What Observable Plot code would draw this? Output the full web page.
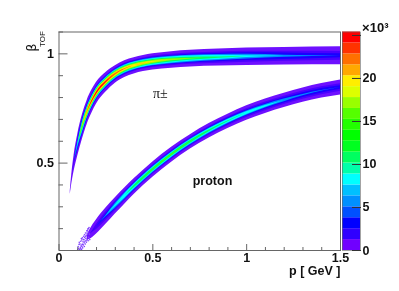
<!DOCTYPE html>
<html><head><meta charset="utf-8">
<script src="https://cdn.jsdelivr.net/npm/d3@7"></script>
<script src="https://cdn.jsdelivr.net/npm/@observablehq/plot@0.6"></script>
<style>
html,body{margin:0;padding:0;background:#fff}
#w{position:relative;width:399px;height:291px;overflow:hidden}
#w svg{position:absolute;left:0;top:0;background:transparent;filter:blur(.3px)}
</style></head><body><div id="w"></div>
<script>
const FONT = '"Liberation Sans",Arial,sans-serif';
const palette = ["#6e10ff","#4a00ff","#1a00ff","#0050ff","#0090ff","#00c0ff","#00ffff","#00ffaa","#00ff60","#00ff20","#00ff00","#22ff00","#55ff00","#99ff00","#ddff00","#ffee00","#ffa800","#ff7000","#ff3300","#ff0000"];
const barPalette = ["#7000ff","#3000ff","#0000ff","#0050ff","#0090ff","#00c0ff","#00ffff","#00ffaa","#00ff60","#00ff20","#00ff00","#22ff00","#55ff00","#99ff00","#ddff00","#ffee00","#ffa800","#ff7000","#ff3300","#ff0000"];
const barEdges = d3.range(0,21).map(i=>i*1.27);

const piP  = [.06,.07,.08,.1,.125,.15,.175,.2,.25,.3,.35,.4,.5,.6,.7,.85,1,1.2,1.5];
const piB  = [.364,.44,.497,.582,.666,.732,.781,.82,.87,.906,.93,.945,.963,.972,.978,.983,.987,.989,.991];
const piLevels = [
 [0, [.008,.025,.037,.05,.056,.055,.053,.05,.045,.04,.038,.037,.037,.038,.038,.039,.04,.04,.041]],
 [1, [0,0,.01,.03,.038,.037,.035,.033,.03,.028,.027,.026,.026,.026,.026,.026,.025,.023,.02]],
 [2, [0,0,0,.022,.033,.032,.03,.028,.026,.024,.023,.022,.021,.021,.02,.019,.018,.015,.009]],
 [4, [0,0,0,.013,.027,.027,.026,.025,.023,.021,.02,.019,.018,.017,.016,.014,.011,.005,0]],
 [6, [0,0,0,.004,.021,.023,.023,.022,.02,.018,.017,.016,.015,.014,.012,.009,.004,0,0]],
 [8, [0,0,0,0,.015,.019,.019,.019,.017,.015,.014,.013,.011,.009,.007,.003,0,0,0]],
 [13,[0,0,0,0,.007,.014,.015,.015,.013,.012,.01,.009,.007,.004,.001,0,0,0,0]],
 [15,[0,0,0,0,0,.009,.011,.011,.01,.008,.006,.005,.002,0,0,0,0,0,0]],
 [17,[0,0,0,0,0,.003,.006,.007,.006,.004,.002,0,0,0,0,0,0,0,0]],
 [19,[0,0,0,0,0,0,.002,.0035,.002,0,0,0,0,0,0,0,0,0,0]]
];
const prP = [.15,.165,.2,.25,.3,.35,.4,.5,.6,.7,.8,.9,1,1.1,1.2,1.3,1.4,1.5];
const prB = [.158,.173,.208,.257,.304,.349,.392,.47,.538,.597,.648,.691,.729,.76,.787,.811,.831,.846];
const prLevels = [
 [0, [.01,.022,.033,.037,.037,.037,.036,.035,.034,.033,.033,.033,.033,.033,.033,.033,.033,.034]],
 [1, [0,0,.012,.02,.022,.022,.022,.021,.021,.02,.02,.02,.02,.02,.019,.019,.018,.017]],
 [2, [0,0,0,.01,.016,.017,.017,.017,.016,.016,.015,.015,.014,.013,.012,.011,.01,.008]],
 [4, [0,0,0,.003,.012,.014,.014,.014,.013,.013,.012,.011,.01,.008,.006,.003,.001,0]],
 [6, [0,0,0,0,.004,.01,.011,.011,.011,.01,.009,.008,.006,.004,0,0,0,0]],
 [8, [0,0,0,0,0,0,.005,.007,.007,.006,.004,.002,0,0,0,0,0,0]],
 [12,[0,0,0,0,0,0,0,.002,.003,.001,0,0,0,0,0,0,0,0]]
];
const speckP = [.1,.102,.105,.107,.11,.112,.114,.116,.118,.12,.121,.123,.125,.126,.128,.13,.131,.133,.135,.136,.138,.14,.141,.143,.145,.146,.148,.15,.151,.153,.155,.156,.158,.16,.162,.164,.115,.122,.129,.137,.144,.152,.108,.119,.127,.134,.142,.149,.157];
const speckB = [.105,.118,.11,.128,.105,.13,.115,.142,.122,.105,.148,.128,.158,.112,.14,.125,.165,.15,.118,.172,.142,.13,.18,.155,.17,.138,.19,.15,.175,.198,.145,.185,.16,.205,.175,.15,.108,.118,.15,.16,.145,.19,.138,.155,.128,.135,.165,.18,.2];

const xMajor=[0,.5,1,1.5], yMajor=[.5,1];
const xMinor=[.1,.2,.3,.4,.6,.7,.8,.9,1.1,1.2,1.3,1.4], yMinor=[.2,.3,.4,.6,.7,.8,.9,1.1];
const barTicks=[0,5,10,15,20,25];

function bands(P,B,levels){
  return levels.map(([c,h])=>Plot.areaY(P.map((p,i)=>({p,lo:B[i]-h[i],hi:B[i]+h[i]})),
    {x:"p",y1:"lo",y2:"hi",fill:palette[c],curve:"monotone-x"}));
}
const gray="#666";
const main = Plot.plot({
  width:399,height:291,marginLeft:58.5,marginRight:59,marginTop:31.5,marginBottom:41,
  style:{background:"transparent",fontFamily:FONT},
  x:{domain:[0,1.5]},y:{domain:[.1,1.1]},
  marks:[
    ...bands(piP,piB,piLevels),
    ...bands(prP,prB,prLevels),
    Plot.dot(speckP.map((p,i)=>({p,b:speckB[i]})),{x:"p",y:"b",r:.8,fill:"#8040ff"}),
    Plot.frame({stroke:gray,strokeWidth:1}),
    Plot.axisY({ticks:yMajor,tickSize:-9,stroke:gray,label:null,tickFormat:d=>d,fontSize:12.5,fontWeight:700,fill:"#111",tickPadding:14}),
    Plot.axisY({ticks:yMinor,tickSize:-4.5,stroke:gray,label:null,tickFormat:()=>""}),
    Plot.axisX({ticks:xMajor,tickSize:-6,stroke:gray,label:null,tickFormat:d=>d,fontSize:12.5,fontWeight:700,fill:"#111",tickPadding:9}),
    Plot.axisX({ticks:xMinor,tickSize:-3,stroke:gray,label:null,tickFormat:()=>""}),
    Plot.text(["π±"],{x:.54,y:.82,fontFamily:'"Liberation Serif",serif',fontSize:14,fill:"#111"}),
    Plot.text(["proton"],{x:.818,y:.418,fontSize:12.5,fontWeight:700,fill:"#111",style:{letterSpacing:".5px"}}),
    Plot.text(["p [ GeV ]"],{frameAnchor:"bottom-right",dy:24,fontSize:12.5,fontWeight:700,fill:"#111",textAnchor:"end",style:{letterSpacing:".9px"}}),
    Plot.text(["β"],{frameAnchor:"top-left",dx:-27,dy:15.5,rotate:-90,textAnchor:"middle",lineAnchor:"middle",fontSize:13,fill:"#111",fontFamily:'"DejaVu Sans"'}),
    Plot.text(["TOF"],{frameAnchor:"top-left",dx:-16.5,dy:7,rotate:-90,textAnchor:"middle",lineAnchor:"middle",fontSize:8,fill:"#111"})
  ]
});
const bar = Plot.plot({
  width:399,height:291,marginLeft:342,marginRight:39,marginTop:31.5,marginBottom:41,
  style:{background:"transparent",fontFamily:FONT},
  x:{domain:[0,1],axis:null},y:{domain:[0,25.4]},
  marks:[
    Plot.rect(barPalette,{x1:0,x2:1,y1:(d,i)=>barEdges[i],y2:(d,i)=>barEdges[i+1],fill:d=>d}),
    Plot.frame({stroke:gray,strokeWidth:.6}),
    Plot.axisY({anchor:"right",ticks:barTicks,tickSize:-9,stroke:"#333",label:null,tickFormat:d=>d===25?"":d,fontSize:12.5,fontWeight:700,fill:"#111",tickPadding:11}),
    Plot.text(["×10³"],{frameAnchor:"top-right",dx:28,dy:-9,fontSize:13,fontWeight:700,fill:"#111",textAnchor:"end"})
  ]
});
document.getElementById("w").append(main,bar);
</script></body></html>
